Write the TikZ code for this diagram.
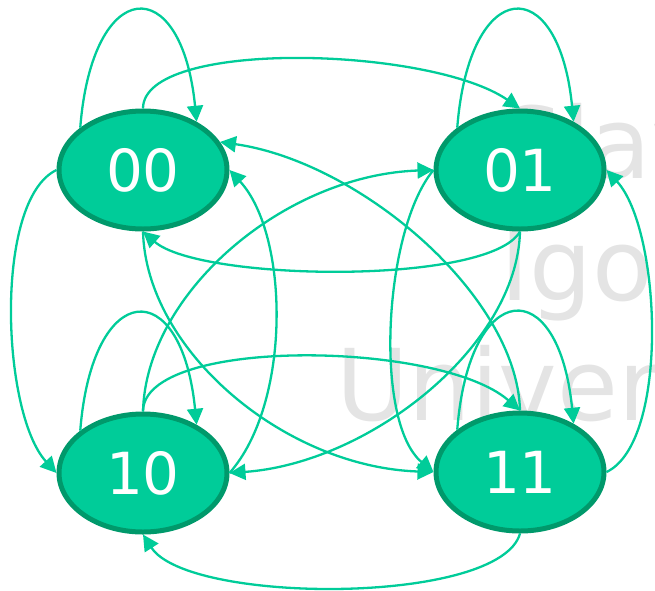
\documentclass[tikz,border=0pt]{standalone}
\usepackage{fontspec}
\setmainfont{DejaVu Sans}
\usetikzlibrary{arrows.meta,shapes.geometric}
\definecolor{fillc}{HTML}{00CC99}
\definecolor{borderc}{HTML}{00996B}
\definecolor{edgec}{HTML}{00CC99}
\definecolor{wmc}{HTML}{E4E4E4}
\tikzset{
  statenode/.style={ellipse, draw=borderc, fill=fillc, line width=5pt,
    minimum width=168pt, minimum height=118pt, inner sep=0pt,
    text=white, font=\fontsize{58}{58}\selectfont},
  edgeline/.style={draw=edgec, line width=2.3pt, -{Triangle[length=16pt,width=16pt]}},
  wmark/.style={text=wmc, font=\fontsize{99}{99}\selectfont, inner sep=0pt, anchor=base west}
}
\begin{document}
\begin{tikzpicture}[x=1pt,y=-1pt]
\useasboundingbox (0,0) rectangle (655,590);
\begin{scope}
\clip (0,0) rectangle (655,590);
\node[wmark] (w1) at (500,178) {Slav};
\node[wmark] (w2) at (500,300) {Igor};
\node[wmark] (w3) at (336,420) {Univer};
\end{scope}
\node[statenode] (s00) at (143,170) {00};
\node[statenode] (s01) at (520,170) {01};
\node[statenode] (s10) at (143,473) {10};
\node[statenode] (s11) at (520,472) {11};
% self loops
\draw[edgeline] (s00.146) .. controls +(12,-152) and +(-15,-152) .. (s00.42);
\draw[edgeline] (s01.146) .. controls +(12,-152) and +(-15,-152) .. (s01.42);
\draw[edgeline] (s10.146) .. controls +(12,-152) and +(-15,-152) .. (s10.42);
\draw[edgeline] (s11.146) .. controls +(12,-152) and +(-15,-152) .. (s11.42);
% horizontal pairs
\draw[edgeline] (s00.north) .. controls +(0,-70) and +(-90,-62) .. (s01.north);
\draw[edgeline] (s01.south) .. controls +(-30,54) and +(57,50) .. (s00.south);
\draw[edgeline] (s10.north) .. controls +(0,-75) and +(-80,-70) .. (s11.north);
\draw[edgeline] (s11.south) .. controls +(-20,72) and +(45,70) .. (s10.south);
% outer verticals
\draw[edgeline] (s00.west) .. controls +(-63,30) and +(-55,-60) .. (s10.west);
\draw[edgeline] (s11.east) .. controls +(63,-30) and +(55,60) .. (s01.east);
% diagonals
\draw[edgeline] (s00.south) .. controls +(3,119) and +(-149,-5) .. (s11.west);
\draw[edgeline] (s01.south) .. controls +(-3,115) and +(140,-10) .. (s10.east);
\draw[edgeline] (s10.north) .. controls +(3,-119) and +(-149,5) .. (s01.west);
\draw[edgeline] (s11.north) .. controls +(-3,-115) and +(140,20) .. (s00.20);
% inner verticals
\draw[edgeline] (s01.west) .. controls +(-50,60) and +(-60,-50) .. (s11.west);
\draw[edgeline] (s10.east) .. controls +(62,-70) and +(60,65) .. (s00.east);
\end{tikzpicture}
\end{document}
